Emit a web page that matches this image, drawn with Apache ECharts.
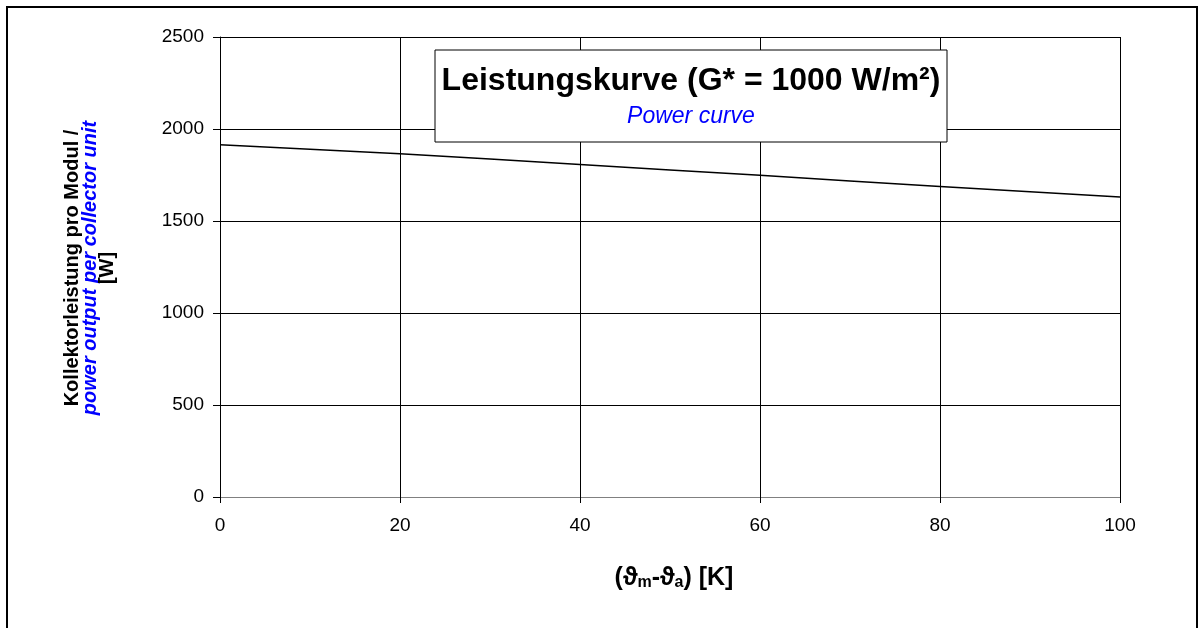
<!DOCTYPE html>
<html>
<head>
<meta charset="utf-8">
<script src="https://cdn.jsdelivr.net/npm/echarts@6/dist/echarts.min.js"></script>
<style>
  html, body { margin: 0; padding: 0; background: #fff; }
  #main { width: 1204px; height: 628px; }
</style>
</head>
<body>
<div id="main"></div>
<script>
// temperature difference (K) and power per collector (W)
var deltaT = [0, 20, 40, 60, 80, 100];
var power = [1915, 1866, 1807, 1748, 1688, 1631];
var yTicks = [0, 500, 1000, 1500, 2000, 2500];

var chart = echarts.init(document.getElementById('main'));

var font = 'Liberation Sans, Arial, sans-serif';

var option = {
    backgroundColor: '#fff',
    animation: false,
    grid: {
        left: 220,
        right: 84,
        top: 37,
        bottom: 131
    },
    xAxis: {
        type: 'value',
        min: 0,
        max: 100,
        interval: 20,
        axisLine: { show: true, lineStyle: { color: '#808080', width: 1 } },
        axisTick: { show: true, length: 6, lineStyle: { color: '#000' } },
        axisLabel: { color: '#000', fontSize: 19, fontFamily: font, margin: 19 },
        splitLine: { show: true, lineStyle: { color: '#000', width: 1 } }
    },
    yAxis: {
        type: 'value',
        min: yTicks[0],
        max: yTicks[yTicks.length - 1],
        interval: 500,
        axisLine: { show: true, lineStyle: { color: '#000', width: 1 } },
        axisTick: { show: true, length: 7, lineStyle: { color: '#000' } },
        axisLabel: {
            color: '#000', fontSize: 19, fontFamily: font, margin: 16,
            formatter: function (v) { return String(v); }
        },
        splitLine: { show: true, lineStyle: { color: '#000', width: 1 } }
    },
    graphic: [
        // outer frame
        {
            type: 'polyline',
            shape: { points: [[7, 640], [7, 7], [1197, 7], [1197, 640]] },
            style: { stroke: '#000', lineWidth: 2, fill: null },
            silent: true
        },
        // title box
        {
            type: 'rect',
            shape: { x: 435, y: 50, width: 512, height: 92 },
            style: { fill: '#fff', stroke: '#000', lineWidth: 1 },
            z: 10
        },
        {
            type: 'text',
            x: 691, y: 81,
            z: 11,
            style: {
                text: 'Leistungskurve (G* = 1000 W/m²)',
                font: 'bold 32px ' + font,
                fill: '#000',
                align: 'center',
                verticalAlign: 'middle'
            }
        },
        {
            type: 'text',
            x: 691, y: 117,
            z: 11,
            style: {
                text: 'Power curve',
                font: 'italic 23px ' + font,
                fill: '#0000ff',
                align: 'center',
                verticalAlign: 'middle'
            }
        },
        // y axis title, three rotated lines
        {
            type: 'text',
            x: 72, y: 268, rotation: Math.PI / 2,
            style: {
                text: 'Kollektorleistung pro Modul /',
                font: 'bold 20px ' + font,
                fill: '#000',
                align: 'center',
                verticalAlign: 'middle'
            }
        },
        {
            type: 'text',
            x: 90, y: 268, rotation: Math.PI / 2,
            style: {
                text: 'power output per collector unit',
                font: 'italic bold 20px ' + font,
                fill: '#0000ff',
                align: 'center',
                verticalAlign: 'middle'
            }
        },
        {
            type: 'text',
            x: 107, y: 268, rotation: Math.PI / 2,
            style: {
                text: '[W]',
                font: 'bold 20px ' + font,
                fill: '#000',
                align: 'center',
                verticalAlign: 'middle'
            }
        },
        // x axis title with subscripts
        {
            type: 'text',
            x: 674, y: 577,
            style: {
                text: '{n|(ϑ}{s|m}{n|-ϑ}{s|a}{n|) [K]}',
                align: 'center',
                verticalAlign: 'middle',
                rich: {
                    n: { font: 'bold 25px ' + font, fill: '#000', verticalAlign: 'bottom', lineHeight: 28 },
                    s: { font: 'bold 16px ' + font, fill: '#000', verticalAlign: 'bottom', lineHeight: 22 }
                }
            }
        }
    ],
    series: [
        {
            type: 'line',
            data: deltaT.map(function (t, i) { return [t, power[i]]; }),
            smooth: true,
            showSymbol: false,
            lineStyle: { color: '#000', width: 1.5 },
            z: 5
        }
    ]
};

chart.setOption(option);
window.addEventListener('resize', function () {
    chart.resize();
});
</script>
</body>
</html>
